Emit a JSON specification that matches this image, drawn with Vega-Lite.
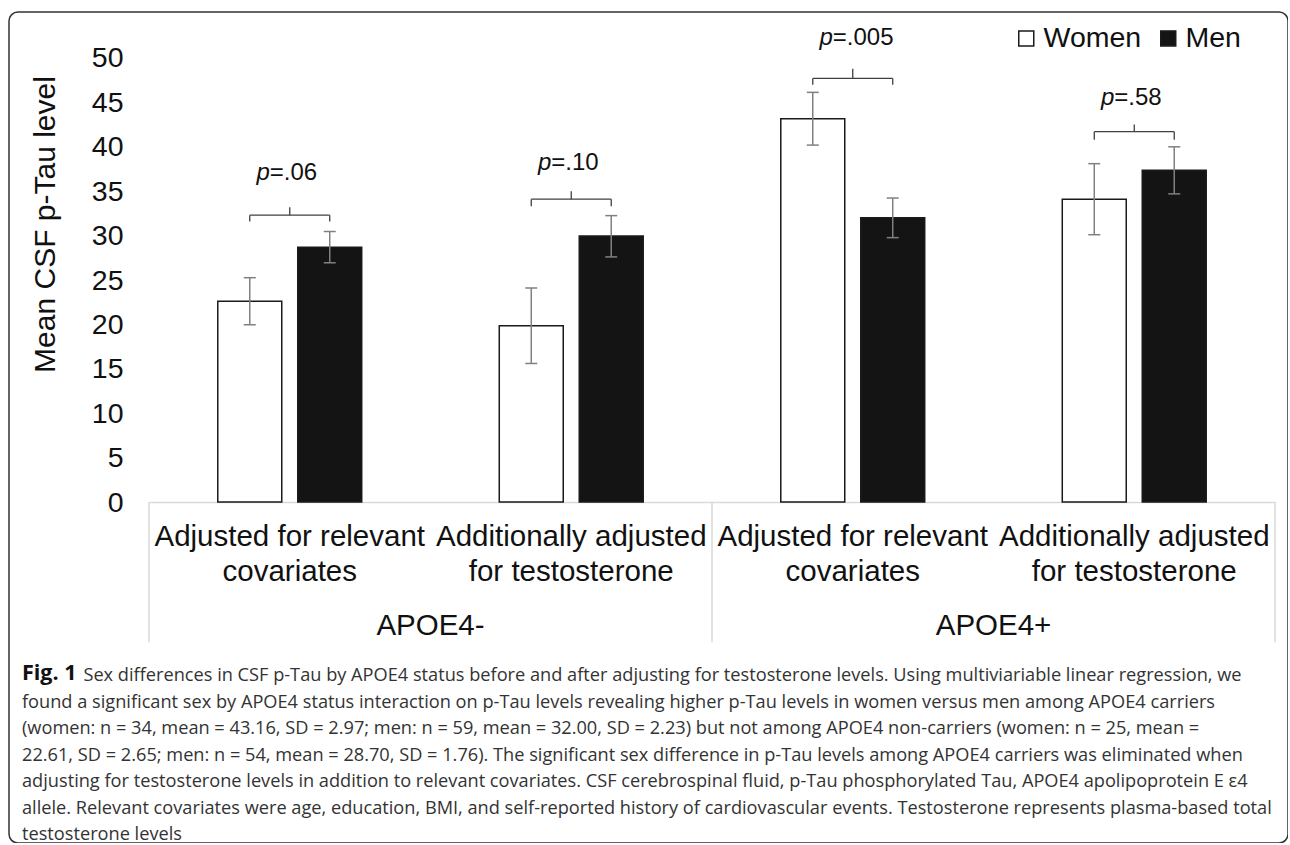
{
  "$schema": "https://vega.github.io/schema/vega-lite/v6.json",
  "width": 1279,
  "height": 831,
  "autosize": {"type": "none"},
  "padding": {"left": 9, "top": 12, "right": 0, "bottom": 0},
  "background": "white",
  "title": {
    "text": "Fig. 1",
    "subtitle": [
      "\u200b\u00a0\u00a0\u00a0\u00a0\u00a0\u00a0\u00a0\u00a0\u00a0\u00a0\u00a0\u00a0\u00a0Sex differences in CSF p-Tau by APOE4 status before and after adjusting for testosterone levels. Using multiviariable linear regression, we",
      "found a significant sex by APOE4 status interaction on p-Tau levels revealing higher p-Tau levels in women versus men among APOE4 carriers",
      "(women: n = 34, mean = 43.16, SD = 2.97; men: n = 59, mean = 32.00, SD = 2.23) but not among APOE4 non-carriers (women: n = 25, mean =",
      "22.61, SD = 2.65; men: n = 54, mean = 28.70, SD = 1.76). The significant sex difference in p-Tau levels among APOE4 carriers was eliminated when",
      "adjusting for testosterone levels in addition to relevant covariates. CSF cerebrospinal fluid, p-Tau phosphorylated Tau, APOE4 apolipoprotein E ε4",
      "allele. Relevant covariates were age, education, BMI, and self-reported history of cardiovascular events. Testosterone represents plasma-based total",
      "testosterone levels"
    ],
    "orient": "bottom",
    "anchor": "start",
    "frame": "group",
    "offset": -180,
    "dx": 13,
    "baseline": "top",
    "font": "Open Sans",
    "fontSize": 21.5,
    "fontWeight": "bold",
    "color": "#111111",
    "subtitleFont": "Open Sans",
    "subtitleFontSize": 18.2,
    "subtitleFontWeight": "normal",
    "subtitleColor": "#333333",
    "subtitleLineHeight": 26.5,
    "subtitlePadding": -17.5
  },
  "datasets": {
    "bars": [
      {"cond": "neg|cov", "sex": "Women", "mean": 22.61, "lo": 19.96, "hi": 25.26},
      {"cond": "neg|cov", "sex": "Men", "mean": 28.70, "lo": 26.94, "hi": 30.46},
      {"cond": "neg|tes", "sex": "Women", "mean": 19.85, "lo": 15.6, "hi": 24.1},
      {"cond": "neg|tes", "sex": "Men", "mean": 29.95, "lo": 27.6, "hi": 32.25},
      {"cond": "pos|cov", "sex": "Women", "mean": 43.16, "lo": 40.19, "hi": 46.13},
      {"cond": "pos|cov", "sex": "Men", "mean": 32.00, "lo": 29.77, "hi": 34.23},
      {"cond": "pos|tes", "sex": "Women", "mean": 34.1, "lo": 30.1, "hi": 38.1},
      {"cond": "pos|tes", "sex": "Men", "mean": 37.35, "lo": 34.7, "hi": 40.0}
    ],
    "brackets": [
      {"cond": "neg|cov", "by": 32.3, "bdrop": 31.6, "btop": 33.2, "py": 37.0, "pval": "=.06"},
      {"cond": "neg|tes", "by": 34.1, "bdrop": 33.3, "btop": 35.0, "py": 38.2, "pval": "=.10"},
      {"cond": "pos|cov", "by": 47.7, "bdrop": 47.0, "btop": 48.8, "py": 52.3, "pval": "=.005"},
      {"cond": "pos|tes", "by": 41.7, "bdrop": 40.8, "btop": 42.5, "py": 45.5, "pval": "=.58"}
    ],
    "groups": [
      {"cond": "neg|tes", "group": "APOE4-"},
      {"cond": "pos|tes", "group": "APOE4+"}
    ]
  },
  "encoding": {
    "x": {
      "field": "cond",
      "type": "nominal",
      "scale": {"domain": ["neg|cov", "neg|tes", "pos|cov", "pos|tes"], "range": [140, 1266], "paddingInner": 0, "paddingOuter": 0},
      "axis": {
        "title": null,
        "orient": "bottom",
        "offset": -341,
        "grid": false,
        "domainColor": "#d9d9d9",
        "domainWidth": 1.5,
        "ticks": false,
        "tickSize": 0,
        "labelAngle": 0,
        "labelPadding": 20,
        "labelFont": "Liberation Sans",
        "labelFontSize": 29.5,
        "labelColor": "#111111",
        "labelLineHeight": 35,
        "labelLimit": 400,
        "labelOverlap": false,
        "labelBound": false,
        "labelExpr": "indexof(datum.value, 'cov') >= 0 ? ['Adjusted for relevant', 'covariates'] : ['Additionally adjusted', 'for testosterone']"
      }
    }
  },
  "layer": [
    {
      "data": {"values": [{"cond": "neg|cov"}, {"cond": "pos|cov"}]},
      "mark": {"type": "rule", "color": "#d9d9d9", "strokeWidth": 1.5},
      "encoding": {
        "x": {"field": "cond", "type": "nominal", "bandPosition": 0},
        "y": {"datum": 0, "type": "quantitative", "scale": {"domain": [-38.4, 55.18], "zero": false, "nice": false}, "title": "Mean CSF p-Tau level"},
        "y2": {"datum": -15.8}
      }
    },
    {
      "data": {"values": [{"cond": "pos|tes"}]},
      "mark": {"type": "rule", "color": "#d9d9d9", "strokeWidth": 1.5},
      "encoding": {
        "x": {"field": "cond", "type": "nominal", "bandPosition": 1},
        "y": {"datum": 0, "type": "quantitative", "scale": {"domain": [-38.4, 55.18], "zero": false, "nice": false}, "title": "Mean CSF p-Tau level"},
        "y2": {"datum": -15.8}
      }
    },
    {
      "data": {"name": "bars"},
      "mark": {"type": "bar", "stroke": "#1a1a1a", "strokeWidth": 1.5},
      "encoding": {
        "xOffset": {"field": "sex", "type": "nominal", "scale": {"domain": ["Women", "Men"], "paddingInner": 0.2, "paddingOuter": 0.86}},
        "y": {
          "field": "mean",
          "type": "quantitative",
          "title": "Mean CSF p-Tau level",
          "scale": {"domain": [-38.4, 55.18], "zero": false, "nice": false},
          "axis": {
            "orient": "left",
            "offset": -114,
            "values": [0, 5, 10, 15, 20, 25, 30, 35, 40, 45, 50],
            "domain": false,
            "ticks": false,
            "tickSize": 0,
            "grid": false,
            "labelPadding": 0,
            "labelFont": "Liberation Sans",
            "labelFontSize": 28.5,
            "labelColor": "#111111",
            "titleFont": "Liberation Sans",
            "titleFontSize": 30,
            "titleFontWeight": "normal",
            "titleColor": "#111111",
            "titleAngle": 270,
            "titleAlign": "center",
            "titleBaseline": "alphabetic",
            "titleX": -69,
            "titleY": 212
          }
        },
        "color": {
          "field": "sex",
          "type": "nominal",
          "scale": {"domain": ["Women", "Men"], "range": ["#ffffff", "#141414"]},
          "legend": {
            "orient": "none",
            "legendX": 1003,
            "legendY": 12,
            "direction": "horizontal",
            "title": null,
            "symbolType": "square",
            "symbolSize": 225,
            "symbolStrokeColor": "#1a1a1a",
            "symbolStrokeWidth": 1.5,
            "symbolOpacity": 1,
            "labelFont": "Liberation Sans",
            "labelFontSize": 28.5,
            "labelColor": "#111111",
            "labelOffset": 3,
            "columnPadding": 12
          }
        }
      }
    },
    {
      "data": {"name": "bars"},
      "mark": {"type": "rule", "color": "#808080", "strokeWidth": 1.5},
      "encoding": {
        "xOffset": {"field": "sex", "type": "nominal", "scale": {"domain": ["Women", "Men"], "paddingInner": 0.2, "paddingOuter": 0.86}},
        "y": {"field": "lo", "type": "quantitative", "title": "Mean CSF p-Tau level", "scale": {"domain": [-38.4, 55.18], "zero": false, "nice": false}},
        "y2": {"field": "hi"}
      }
    },
    {
      "data": {"name": "bars"},
      "mark": {"type": "tick", "orient": "horizontal", "size": 12, "thickness": 1.5, "color": "#808080", "opacity": 1},
      "encoding": {
        "xOffset": {"field": "sex", "type": "nominal", "scale": {"domain": ["Women", "Men"], "paddingInner": 0.2, "paddingOuter": 0.86}},
        "y": {"field": "lo", "type": "quantitative", "title": "Mean CSF p-Tau level", "scale": {"domain": [-38.4, 55.18], "zero": false, "nice": false}}
      }
    },
    {
      "data": {"name": "bars"},
      "mark": {"type": "tick", "orient": "horizontal", "size": 12, "thickness": 1.5, "color": "#808080", "opacity": 1},
      "encoding": {
        "xOffset": {"field": "sex", "type": "nominal", "scale": {"domain": ["Women", "Men"], "paddingInner": 0.2, "paddingOuter": 0.86}},
        "y": {"field": "hi", "type": "quantitative", "title": "Mean CSF p-Tau level", "scale": {"domain": [-38.4, 55.18], "zero": false, "nice": false}}
      }
    },
    {
      "data": {"name": "brackets"},
      "mark": {"type": "tick", "orient": "horizontal", "size": 80, "thickness": 1.3, "color": "#404040", "opacity": 1},
      "encoding": {
        "y": {"field": "by", "type": "quantitative", "title": "Mean CSF p-Tau level", "scale": {"domain": [-38.4, 55.18], "zero": false, "nice": false}}
      }
    },
    {
      "data": {"name": "bars"},
      "transform": [
        {"lookup": "cond", "from": {"data": {"name": "brackets"}, "key": "cond", "fields": ["by", "bdrop"]}}
      ],
      "mark": {"type": "rule", "color": "#404040", "strokeWidth": 1.3},
      "encoding": {
        "xOffset": {"field": "sex", "type": "nominal", "scale": {"domain": ["Women", "Men"], "paddingInner": 0.2, "paddingOuter": 0.86}},
        "y": {"field": "by", "type": "quantitative", "title": "Mean CSF p-Tau level", "scale": {"domain": [-38.4, 55.18], "zero": false, "nice": false}},
        "y2": {"field": "bdrop"}
      }
    },
    {
      "data": {"name": "brackets"},
      "mark": {"type": "rule", "color": "#404040", "strokeWidth": 1.3},
      "encoding": {
        "y": {"field": "by", "type": "quantitative", "title": "Mean CSF p-Tau level", "scale": {"domain": [-38.4, 55.18], "zero": false, "nice": false}},
        "y2": {"field": "btop"}
      }
    },
    {
      "data": {"name": "brackets"},
      "mark": {"type": "text", "text": "p", "fontStyle": "italic", "align": "right", "baseline": "middle", "dx": -20, "font": "Liberation Sans", "fontSize": 24, "color": "#111111"},
      "encoding": {
        "y": {"field": "py", "type": "quantitative", "title": "Mean CSF p-Tau level", "scale": {"domain": [-38.4, 55.18], "zero": false, "nice": false}}
      }
    },
    {
      "data": {"name": "brackets"},
      "mark": {"type": "text", "align": "left", "baseline": "middle", "dx": -20, "font": "Liberation Sans", "fontSize": 24, "color": "#111111"},
      "encoding": {
        "y": {"field": "py", "type": "quantitative", "title": "Mean CSF p-Tau level", "scale": {"domain": [-38.4, 55.18], "zero": false, "nice": false}},
        "text": {"field": "pval", "type": "nominal"}
      }
    },
    {
      "data": {"name": "groups"},
      "mark": {"type": "text", "align": "center", "baseline": "middle", "font": "Liberation Sans", "fontSize": 29.5, "color": "#111111"},
      "encoding": {
        "x": {"field": "cond", "type": "nominal", "bandPosition": 0},
        "y": {"datum": -14, "type": "quantitative", "scale": {"domain": [-38.4, 55.18], "zero": false, "nice": false}, "title": "Mean CSF p-Tau level"},
        "text": {"field": "group", "type": "nominal"}
      }
    }
  ],
  "config": {
    "view": {"stroke": "#333333", "strokeWidth": 1.5, "cornerRadius": 9, "fill": "white"},
    "font": "Liberation Sans"
  }
}
